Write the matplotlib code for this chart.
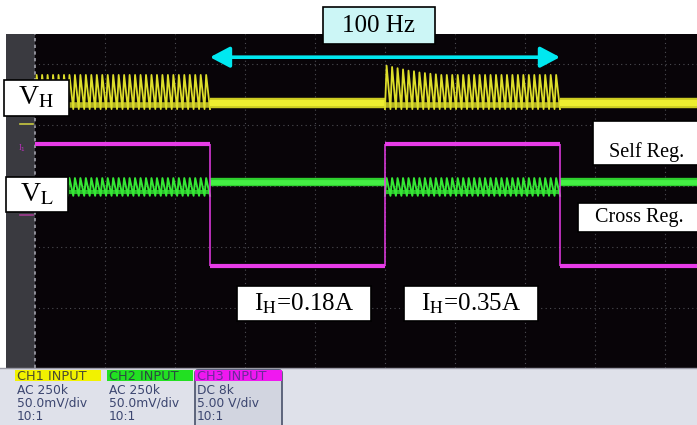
""" Scope capture: V_H / V_L cross regulation under a 100 Hz load step on I_H.
    time base 4 ms/div, vertical values in screen divisions
"""

import numpy as np
import matplotlib.pyplot as plt
from matplotlib.patches import Rectangle, FancyBboxPatch

## DATA
seg_edges_ms = [0.0, 10.0, 20.0, 30.0, 37.85]      # load step edges
ch3_level = [0.69, -1.31, 0.69, -1.31]             # I_H step, div
teeth = [32, 0, 32, 0]                             # ripple teeth per segment

ch1_low = [1.26, 1.36, 1.26, 1.36]                 # V_H: ripple bottom / flat level
ch1_high = [1.82, 1.36, 1.82, 1.36]                # V_H: ripple top
ch1_first_tops = [[], [], [1.97, 1.95, 1.93, 1.91, 1.89, 1.88, 1.86, 1.85, 1.84, 1.83], []]

ch2_low = [-0.16, 0.07, -0.16, 0.07]               # V_L
ch2_high = [0.13, 0.07, 0.13, 0.07]

ch_markers = {'ch1': 1.02, 'ch3': 0.62, 'ch2': -0.48}

panel_titles = ['CH1 INPUT', 'CH2 INPUT', 'CH3 INPUT']
panel_lines = [['AC 250k', '50.0mV/div', '10:1'],
               ['AC 250k', '50.0mV/div', '10:1'],
               ['DC 8k', '5.00 V/div', '10:1']]
panel_colors = ['#f2f200', '#22e022', '#f018f0']
title_colors = ['#4a4a30', '#2a4a40', '#6a2a9a']

YEL = '#dede2a'
GRN = '#35e835'
MAG = '#e83ce8'


def sawtooth(t0, t1, n, lo, hi, first_tops):
    # one tooth = quick rise then a slower fall, n teeth between t0 and t1
    dt = (t1 - t0) / n
    k = np.arange(n)
    tops = np.full(n, hi)
    tops[:len(first_tops)] = first_tops
    tt = np.empty(2 * n + 1)
    yy = np.empty(2 * n + 1)
    tt[0:-1:2] = t0 + k * dt
    tt[1::2] = t0 + (k + 0.3) * dt
    tt[-1] = t1
    yy[0::2] = lo
    yy[1::2] = tops
    return tt, yy


W, H = 697, 425
fig = plt.figure(figsize=(W / 100, H / 100), dpi=100)
fig.patch.set_facecolor('white')

# scope screen axes (pixel box 6..697 x 34..368)
ax = fig.add_axes([6 / W, (H - 368) / H, (W - 6) / W, (368 - 34) / H])
ax.set_facecolor('#080408')
ax.set_xlim(-1.657, 37.83)
ax.set_ylim(-2.98, 2.49)
ax.set_xticks([])
ax.set_yticks([])
for s in ax.spines.values():
    s.set_visible(False)

# left grey strip + dashed start line
ax.axvspan(-2, 0, color='#3a3a40', lw=0, zorder=0)
ax.axvline(0, color='#a0a0aa', lw=1.2, ls=(0, (2, 2)), zorder=1)

# graticule
for t in np.arange(4, 40, 4):
    ax.axvline(t, color='#4c4c52', lw=0.8, ls=(0, (1, 3)), zorder=1)
for d in [-2, -1, 0, 1, 2]:
    ax.axhline(d, xmin=0.04, color='#4c4c52', lw=0.8, ls=(0, (1, 3)), zorder=1)

# channel reference markers on the strip
ax.plot([-0.85, -0.1], [ch_markers['ch1']] * 2, color='#c8c840', lw=1.2, zorder=2)
ax.plot([-0.85, -0.1], [ch_markers['ch2']] * 2, color='#a03c90', lw=1.2, zorder=2)
ax.text(-0.95, ch_markers['ch3'], r'I$_1$', color='#c030c0', fontsize=6,
        family='Liberation Serif', va='center', zorder=2)

# V_H and V_L traces
for i in range(len(teeth)):
    t0, t1 = seg_edges_ms[i], seg_edges_ms[i + 1]
    if teeth[i] > 0:
        tt, yy = sawtooth(t0, t1, teeth[i], ch1_low[i], ch1_high[i], ch1_first_tops[i])
        ax.plot(tt, yy, color=YEL, lw=1.3, zorder=3)
        ax.plot([t0, t1], [ch1_low[i] + 0.07] * 2, color=YEL, lw=4, alpha=0.8,
                solid_capstyle='butt', zorder=3)
        tt, yy = sawtooth(t0, t1, teeth[i], ch2_low[i], ch2_high[i], [])
        ax.plot(tt, yy, color=GRN, lw=1.4, zorder=3)
        ax.plot([t0, t1], [ch2_low[i] + 0.07] * 2, color=GRN, lw=3, alpha=0.8,
                solid_capstyle='butt', zorder=3)
    else:
        ax.plot([t0, t1], [ch1_low[i]] * 2, color='#cccc22', lw=7.5, solid_capstyle='butt', zorder=3)
        ax.plot([t0, t1], [ch1_low[i]] * 2, color='#eeee30', lw=4.5, solid_capstyle='butt', zorder=3)
        ax.plot([t0, t1], [ch2_low[i]] * 2, color='#2ed02e', lw=6, solid_capstyle='butt', zorder=3)
        ax.plot([t0, t1], [ch2_low[i]] * 2, color='#44f044', lw=3.5, solid_capstyle='butt', zorder=3)

# I_H step (CH3)
ax.hlines(ch3_level, seg_edges_ms[:-1], seg_edges_ms[1:], color=MAG, lw=3, zorder=4)
ax.vlines(seg_edges_ms[1:-1], ch3_level[:-1], ch3_level[1:], color=MAG, lw=1.1, zorder=4)

# 100 Hz period arrow
ax.annotate('', xy=(seg_edges_ms[1], 2.11), xytext=(seg_edges_ms[3], 2.11),
            arrowprops=dict(arrowstyle='<|-|>,head_length=0.85,head_width=0.45',
                            mutation_scale=14, color='#00e8f0', lw=2.6,
                            shrinkA=0, shrinkB=0), zorder=5)

# overlay in pixel coordinates for labels and the channel panel
ov = fig.add_axes([0, 0, 1, 1], zorder=5)
ov.set_xlim(0, W)
ov.set_ylim(H, 0)
ov.axis('off')
ov.patch.set_alpha(0)

serif = 'Liberation Serif'
plt.rcParams['mathtext.fontset'] = 'stix'


def label_box(x0, y0, x1, y1, txt, size, fc='white', ty=None):
    ov.add_patch(Rectangle((x0, y0), x1 - x0, y1 - y0, fc=fc, ec='black', lw=1.2, zorder=6))
    ov.text((x0 + x1) / 2, (y0 + y1) / 2 if ty is None else ty, txt, fontsize=size,
            family=serif, ha='center', va='center', zorder=7)


label_box(323, 7, 435, 44, '100 Hz', 18, fc='#ccf6f6')
label_box(4, 80, 69, 116, r'V$_\mathrm{H}$', 20)
label_box(6, 177, 68, 212, r'V$_\mathrm{L}$', 20)
label_box(593, 121, 700, 165, 'Self Reg.', 14.5, ty=152)
label_box(578, 203, 700, 232, 'Cross Reg.', 14.5)
label_box(237, 286, 371, 321, r'I$_\mathrm{H}$=0.18A', 18)
label_box(404, 286, 538, 321, r'I$_\mathrm{H}$=0.35A', 18)

# channel info panel
ov.add_patch(Rectangle((0, 368), W, H - 368, fc='#dfe1ea', ec='none', zorder=6))
ov.plot([0, W], [368, 368], color='#9a9aa6', lw=1, zorder=6)
panel_x = [15, 107, 195]
for j in range(3):
    x0 = panel_x[j]
    if j == 2:
        ov.add_patch(FancyBboxPatch((x0, 370), 87, 60, boxstyle='round,pad=0,rounding_size=3',
                                    fc='#d2d5e0', ec='#48506a', lw=1.2, zorder=6))
    ov.add_patch(Rectangle((x0, 370), 86 if j < 2 else 87, 11, fc=panel_colors[j], ec='none', zorder=7))
    ov.text(x0 + 2, 376, panel_titles[j], fontsize=9.3, color=title_colors[j],
            va='center', ha='left', zorder=8)
    for k, line in enumerate(panel_lines[j]):
        ov.text(x0 + 2, 390 + 13 * k, line, fontsize=8.8, color='#3c4670',
                va='center', ha='left', zorder=8)

fig.savefig('out.png', dpi=100, facecolor='white')
